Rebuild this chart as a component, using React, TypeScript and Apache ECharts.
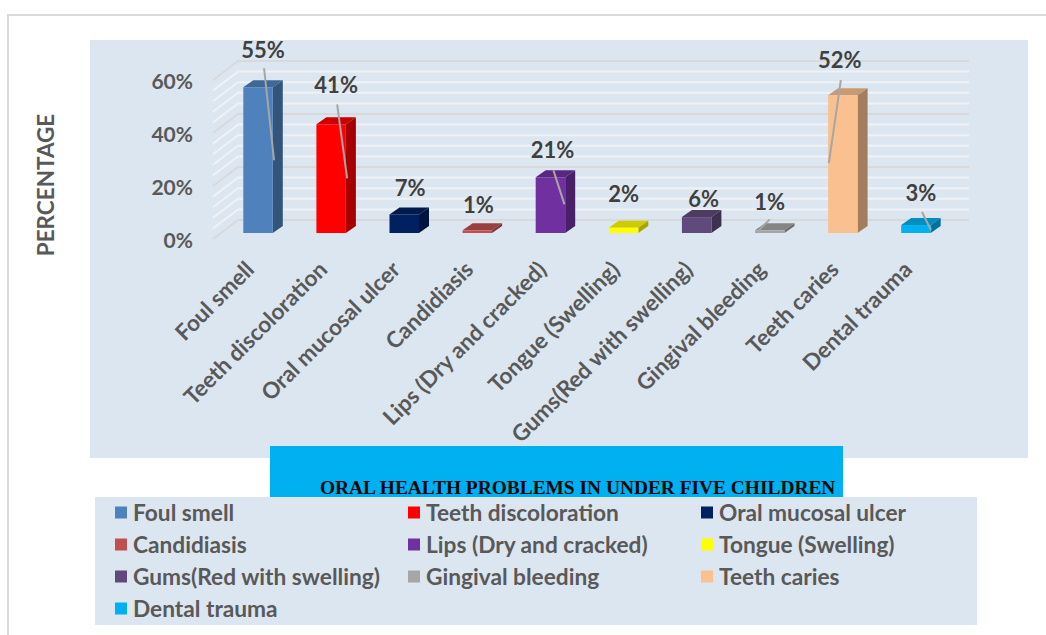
import React, { useEffect, useRef } from "react";
import * as echarts from "echarts";

const categories = ["Foul smell", "Teeth discoloration", "Oral mucosal ulcer", "Candidiasis", "Lips (Dry and cracked)", "Tongue (Swelling)", "Gums(Red with swelling)", "Gingival bleeding", "Teeth caries", "Dental trauma"];
const values = [55, 41, 7, 1, 21, 2, 6, 1, 52, 3];
const colors = ["#4f81bd", "#ff0000", "#002060", "#c0504d", "#7030a0", "#ffff00", "#604a7b", "#a6a6a6", "#fac090", "#00b0f0"];
const wallTicks = [0, 4, 8, 12, 16, 20, 24, 28, 32, 36, 40, 44, 48, 52, 56, 60];
const yTickInterval = 20;
// manually placed data labels: offset from the bar's top-centre
const labelOffsets = [[5, -38], [5, -40], [6, -27], [1, -26], [2, -28], [0, -34], [7, -19], [0, -29], [-3, -36], [5, -33]];
// leader lines: [x1,y1,x2,y2] relative to the bar's top-centre
const leaders: (number[] | null)[] = [[6, -19, 16, 73], [6, -20, 16, 54], null, null, [3, -7, 14, 27], null, null, [0, -11, -11, 0], [-2, -15, -14, 68], [6, -13, 15, 5]];
const legendColumns = [
  ["Foul smell", "Candidiasis", "Gums(Red with swelling)", "Dental trauma"],
  ["Teeth discoloration", "Lips (Dry and cracked)", "Gingival bleeding"],
  ["Oral mucosal ulcer", "Tongue (Swelling)", "Teeth caries"],
];
const legendLefts = [115, 408, 701];
const titleText = "ORAL HEALTH PROBLEMS IN UNDER FIVE CHILDREN";
const axisName = "PERCENTAGE";
const FONT = "Lato";
const GREY = "#595959";
const PANEL = "#dce6f1";

function shade(color: string, factor: number) {
  const c = echarts.color.parse(color);
  return `rgb(${Math.round(c[0] * factor)},${Math.round(c[1] * factor)},${Math.round(c[2] * factor)})`;
}

function barItem(params: any, api: any) {
  const i = api.value(0);
  const top = api.coord([i, api.value(1)]);
  const base = api.coord([i, 0]);
  const color = api.visual("color");
  const s = params.seriesIndex - 1;
  const w = 29.5;
  const cx = top[0] + 8.5;
  const yt = top[1] - 6;
  const yb = base[1] - 6;
  const l = cx - w / 2;
  const r = cx + w / 2;
  const dx = 10;
  const dy = 7;
  const children: any[] = [
    { type: "polygon", shape: { points: [[l, yt], [r, yt], [r + dx, yt - dy], [l + dx, yt - dy]] }, style: { fill: shade(color, 0.8) } },
    { type: "polygon", shape: { points: [[r, yb], [r, yt], [r + dx, yt - dy], [r + dx, yb - dy]] }, style: { fill: shade(color, 0.65) } },
    { type: "rect", shape: { x: l, y: yt, width: w, height: yb - yt }, style: { fill: color } },
  ];
  const lead = leaders[s];
  if (lead) {
    children.push({ type: "line", shape: { x1: cx + lead[0], y1: yt + lead[1], x2: cx + lead[2], y2: yt + lead[3] }, style: { stroke: "#a6a6a6", lineWidth: 2 } });
  }
  const off = labelOffsets[s];
  children.push({ type: "text", style: { x: cx + off[0], y: yt + off[1], text: values[s] + "%", fill: "#404040", font: `bold 22px ${FONT}`, align: "center", verticalAlign: "middle" } });
  return { type: "group", children };
}

function wallItem(params: any, api: any) {
  const v = api.value(1);
  const p = api.coord([0, v]);
  const x0 = params.coordSys.x;
  const x1 = x0 + params.coordSys.width;
  const major = v % yTickInterval === 0;
  return {
    type: "polyline",
    shape: { points: [[x0, p[1]], [x0 + 25, p[1] - 19], [x1 + 25, p[1] - 19]] },
    style: { fill: "none", stroke: major ? "#d9d9d9" : "#eef2f7", lineWidth: 2 },
  };
}

export default function App() {
  const ref = useRef<HTMLDivElement>(null);
  useEffect(() => {
    const chart = echarts.init(ref.current!, null, { renderer: "svg" });
    chart.setOption({
      animation: false,
      backgroundColor: "#ffffff",
      title: {
        text: titleText,
        left: 315,
        top: 473,
        textStyle: { fontFamily: "Liberation Serif", fontWeight: "bold", fontSize: 19.4, color: "#0a0a0a" },
      },
      grid: { left: 213, top: 80, width: 731, height: 159 },
      xAxis: {
        type: "category",
        data: categories,
        axisLine: { show: false },
        axisTick: { show: false },
        axisLabel: { interval: 0, rotate: 45, margin: 26, color: GREY, fontFamily: FONT, fontWeight: "bold", fontSize: 22.5 },
      },
      yAxis: {
        type: "value",
        min: 0,
        max: 60,
        interval: yTickInterval,
        axisLine: { show: false },
        axisTick: { show: false },
        splitLine: { show: false },
        axisLabel: { formatter: "{value}%", margin: 20, color: GREY, fontFamily: FONT, fontWeight: "bold", fontSize: 21 },
      },
      legend: legendColumns.map((data, k) => ({
        orient: "vertical",
        left: legendLefts[k],
        top: 501,
        padding: 0,
        itemWidth: 12,
        itemHeight: 12,
        itemGap: 9,
        icon: "rect",
        selectedMode: false,
        data,
        textStyle: { color: GREY, fontFamily: FONT, fontWeight: "bold", fontSize: 22.7, lineHeight: 22, padding: [0, 0, 0, 1] },
      })),
      graphic: [
        { type: "rect", z: -10, shape: { x: 8, y: 15, width: 1100, height: 700 }, style: { fill: "#ffffff", stroke: "#d9d9d9", lineWidth: 2 } },
        { type: "rect", z: -9, shape: { x: 90, y: 40, width: 938, height: 418 }, style: { fill: PANEL } },
        { type: "rect", z: -8, shape: { x: 270, y: 446, width: 573, height: 51 }, style: { fill: "#00b0f0" } },
        { type: "rect", z: -7, shape: { x: 95, y: 497, width: 882, height: 128 }, style: { fill: PANEL } },
        { type: "text", z: -6, x: 45, y: 185, rotation: Math.PI / 2, style: { text: axisName, fill: GREY, font: `bold 22.5px ${FONT}`, align: "center", verticalAlign: "middle" } },
      ],
      series: [
        {
          type: "custom",
          name: "wall",
          silent: true,
          renderItem: wallItem,
          data: wallTicks.map((v) => [0, v]),
          encode: { x: 0, y: 1 },
          z: 1,
        },
        ...categories.map((name, i) => ({
          type: "custom",
          name,
          renderItem: barItem,
          itemStyle: { color: colors[i] },
          data: [[i, values[i]]],
          encode: { x: 0, y: 1 },
          z: 2,
        })),
      ],
    });
    return () => chart.dispose();
  }, []);
  return <div ref={ref} style={{ position: "absolute", left: 0, top: 0, width: 1046, height: 635 }} />;
}
